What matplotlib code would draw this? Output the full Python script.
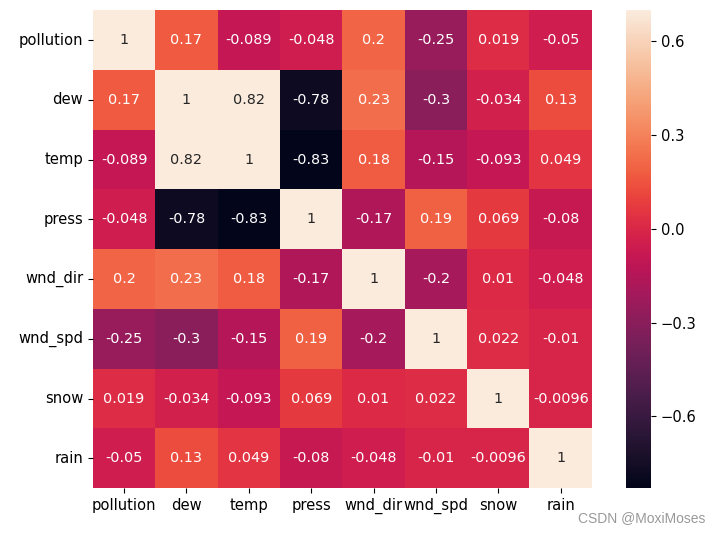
import numpy as np
import pandas as pd
import matplotlib
matplotlib.use("Agg")
import matplotlib.pyplot as plt
import seaborn as sns

labels = ["pollution", "dew", "temp", "press", "wnd_dir", "wnd_spd", "snow", "rain"]

pollution = [1, 0.17, -0.089, -0.048, 0.2, -0.25, 0.019, -0.05]
dew = [0.17, 1, 0.82, -0.78, 0.23, -0.3, -0.034, 0.13]
temp = [-0.089, 0.82, 1, -0.83, 0.18, -0.15, -0.093, 0.049]
press = [-0.048, -0.78, -0.83, 1, -0.17, 0.19, 0.069, -0.08]
wnd_dir = [0.2, 0.23, 0.18, -0.17, 1, -0.2, 0.01, -0.048]
wnd_spd = [-0.25, -0.3, -0.15, 0.19, -0.2, 1, 0.022, -0.01]
snow = [0.019, -0.034, -0.093, 0.069, 0.01, 0.022, 1, -0.0096]
rain = [-0.05, 0.13, 0.049, -0.08, -0.048, -0.01, -0.0096, 1]

corr = pd.DataFrame([pollution, dew, temp, press, wnd_dir, wnd_spd, snow, rain],
                    index=labels, columns=labels)

fig = plt.figure(figsize=(7.2, 5.37), dpi=100)
ax = fig.add_axes([0.129, 0.091, 0.693, 0.890])
cax = fig.add_axes([0.869, 0.091, 0.035, 0.890])

sns.heatmap(corr, vmax=0.7, annot=True, ax=ax, cbar_ax=cax,
            annot_kws={"fontsize": 10.4})
ax.tick_params(labelsize=10.6)
plt.setp(ax.get_yticklabels(), rotation=0)
plt.setp(ax.get_xticklabels(), rotation=0)

cax.set_yticks([-0.6, -0.3, 0.0, 0.3, 0.6])
cax.tick_params(labelsize=10.6)

fig.text(0.98, 0.022, "CSDN @MoxiMoses", ha="right", va="bottom",
         fontsize=10, color="#999999", family="Liberation Sans")

fig.savefig("out.png", dpi=100)
